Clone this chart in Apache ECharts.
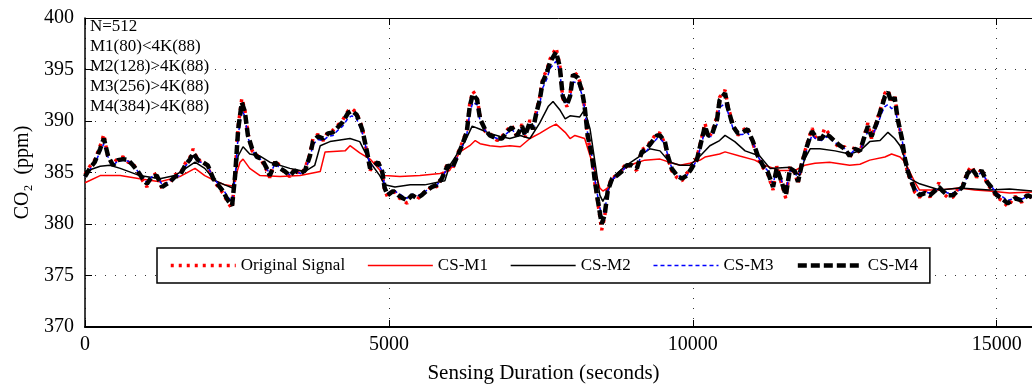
<!DOCTYPE html>
<html>
<head>
<meta charset="utf-8">
<script src="https://cdn.jsdelivr.net/npm/echarts@6/dist/echarts.min.js"></script>
<style>
  html, body { margin: 0; padding: 0; background: #fff; }
  #chart { width: 1032px; height: 389px; }
</style>
</head>
<body>
<div id="chart"></div>
<script>
// Sample times (seconds) shared by the original signal and the CS-M3 / CS-M4 reconstructions
const timeSec = [
  0,80,160,250,310,380,460,540,630,710,
  790,870,950,1020,1100,1180,1270,1320,1400,1480,
  1560,1650,1730,1780,1860,1940,2020,2110,2190,2270,
  2350,2420,2470,2520,2580,2630,2680,2750,2830,2910,
  2990,3040,3130,3210,3290,3370,3450,3540,3620,3700,
  3750,3830,3920,4000,4080,4160,4240,4330,4390,4470,
  4560,4640,4690,4770,4820,4890,4930,4980,5070,5150,
  5230,5300,5380,5460,5540,5630,5710,5790,5870,5920,
  5970,6040,6120,6200,6280,6330,6380,6450,6500,6580,
  6660,6780,6860,6940,7020,7110,7190,7240,7320,7370,
  7430,7480,7530,7600,7650,7750,7810,7860,7930,7980,
  8030,8110,8180,8220,8270,8340,8390,8440,8500,8550,
  8600,8670,8750,8830,8910,9000,9080,9160,9240,9330,
  9410,9460,9540,9590,9650,9740,9820,9900,9980,10070,
  10150,10200,10250,10310,10400,10440,10530,10580,10660,10740,
  10820,10900,10990,11070,11150,11230,11320,11380,11460,11530,
  11600,11680,11730,11790,11880,11960,12040,12120,12170,12250,
  12340,12420,12500,12580,12660,12750,12830,12880,12940,13030,
  13110,13160,13210,13270,13320,13370,13440,13490,13540,13600,
  13650,13730,13820,13900,13980,14050,14110,14190,14280,14360,
  14440,14520,14590,14670,14750,14840,14920,15000,15080,15180,
  15300,15410,15510,15580
];

// Measured CO2 (ppm)
const originalSignal = [
  384.8,385.6,386.2,387.6,388.7,386.4,385.8,386.4,386.5,386.0,
  385.9,385.0,384.2,383.6,384.7,384.9,383.4,383.9,384.0,384.8,
  384.8,385.9,386.5,387.3,386.1,386.2,385.5,384.3,383.6,383.0,
  382.1,381.5,384.9,389.5,392.2,391.1,388.8,387.1,386.7,386.1,
  385.2,384.5,386.2,385.6,384.9,384.6,385.4,384.8,385.4,386.8,
  388.3,388.7,388.1,389.0,389.1,389.6,390.1,391.0,391.2,390.8,
  389.4,386.8,385.2,385.9,386.2,384.9,383.3,382.6,383.4,382.6,
  382.3,382.0,383.0,382.3,383.0,383.1,383.8,383.6,384.6,385.3,
  385.9,385.2,386.7,387.8,389.1,391.7,392.9,392.3,390.4,389.0,
  388.8,388.1,388.5,389.1,389.6,388.4,389.7,388.4,390.1,389.0,
  391.1,392.3,394.1,395.0,396.0,397.1,395.5,392.2,391.4,392.6,
  394.8,394.4,393.0,391.2,388.4,386.4,383.9,382.0,379.4,380.7,
  383.4,384.6,384.5,385.3,385.9,385.5,385.2,387.2,387.5,388.2,
  388.9,388.8,387.8,386.4,385.2,384.5,384.2,384.9,385.6,386.5,
  388.5,389.8,388.4,388.8,390.5,392.3,393.0,391.4,389.7,388.6,
  389.1,389.4,387.8,386.4,385.5,384.9,383.3,385.6,383.9,382.5,
  385.6,384.9,383.9,385.9,387.8,389.3,388.1,388.5,389.3,388.7,
  387.8,387.4,387.5,386.4,387.5,386.9,388.8,389.8,388.3,390.1,
  391.6,392.7,393.0,392.0,392.5,390.4,388.1,386.1,384.9,383.9,
  383.1,382.6,383.2,382.6,383.4,384.0,383.0,382.6,382.6,383.4,
  383.8,385.1,385.6,384.5,385.4,383.9,383.3,382.6,382.3,381.7,
  382.7,382.1,383.0,382.4
];

// CS-M3 reconstruction
const csM3 = [
  384.6,385.3,385.9,387.0,387.8,386.5,385.7,386.1,386.2,386.1,
  385.7,385.1,384.5,384.0,384.6,384.7,383.8,383.9,384.2,384.6,
  384.7,385.6,386.1,386.6,386.1,385.9,385.6,384.5,383.9,383.4,
  382.6,382.2,384.5,388.6,391.0,390.5,388.4,387.2,386.5,386.2,
  385.4,384.8,385.9,385.4,385.1,384.8,385.2,384.9,385.2,386.4,
  387.7,388.2,388.1,388.5,388.6,389.1,389.5,390.3,390.5,390.2,
  388.9,387.0,385.6,385.7,385.9,385.1,383.7,383.0,383.3,383.0,
  382.7,382.5,382.9,382.7,382.9,383.3,383.6,383.8,384.3,385.0,
  385.6,385.5,386.4,387.4,388.6,390.8,391.8,391.6,390.0,389.1,
  388.6,388.3,388.3,388.8,389.2,388.6,389.3,388.7,389.7,389.2,
  390.6,391.6,393.2,394.1,395.1,395.8,394.8,392.3,391.6,392.2,
  393.8,393.7,392.5,391.2,388.7,386.6,384.3,382.5,380.7,381.2,
  383.2,384.3,384.7,385.1,385.6,385.7,385.5,386.8,387.1,387.8,
  388.3,388.3,387.8,386.6,385.5,384.8,384.5,384.7,385.4,386.2,
  388.0,389.0,388.5,388.5,389.7,391.3,391.7,390.8,389.3,388.7,
  388.7,388.9,387.9,386.6,385.7,385.2,383.9,385.3,384.2,383.1,
  385.2,385.1,384.3,385.6,387.3,388.6,388.2,388.1,388.5,388.3,
  387.9,387.6,387.3,386.7,387.2,387.1,388.3,389.0,388.5,389.5,
  390.8,391.4,391.6,391.2,391.4,390.0,388.3,386.4,385.2,384.2,
  383.5,383.0,383.1,383.0,383.2,383.5,383.3,383.0,383.0,383.2,
  383.5,384.7,385.2,384.7,385.0,384.2,383.6,383.0,382.7,382.3,
  382.5,382.4,382.7,382.6
];

// CS-M4 reconstruction
const csM4 = [
  384.6,385.4,386.0,387.3,388.3,386.6,385.7,386.2,386.3,386.2,
  385.7,385.1,384.4,383.9,384.6,384.7,383.6,383.8,384.1,384.6,
  384.7,385.7,386.3,386.9,386.2,386.0,385.7,384.4,383.8,383.2,
  382.3,381.8,384.7,389.2,391.8,390.9,388.6,387.3,386.5,386.3,
  385.4,384.7,386.0,385.4,385.1,384.7,385.2,384.9,385.2,386.6,
  388.0,388.5,388.3,388.8,388.9,389.4,389.9,390.8,391.0,390.6,
  389.2,387.0,385.4,385.7,386.0,385.1,383.5,382.8,383.2,382.8,
  382.5,382.3,382.8,382.5,382.8,383.3,383.6,383.8,384.4,385.1,
  385.7,385.4,386.5,387.6,388.9,391.4,392.6,392.1,390.2,389.2,
  388.6,388.3,388.3,388.9,389.4,388.6,389.5,388.6,389.9,389.2,
  390.9,392.0,393.8,394.7,395.7,396.7,395.3,392.4,391.6,392.4,
  394.5,394.2,392.8,391.4,388.6,386.6,384.1,382.2,380.0,380.9,
  383.2,384.4,384.7,385.1,385.7,385.7,385.4,387.0,387.3,388.0,
  388.6,388.6,388.0,386.6,385.4,384.7,384.4,384.7,385.4,386.3,
  388.3,389.5,388.6,388.6,390.2,392.0,392.7,391.2,389.5,388.8,
  388.9,389.2,388.0,386.6,385.7,385.1,383.6,385.4,384.1,382.8,
  385.4,385.1,384.1,385.7,387.6,389.0,388.3,388.3,388.8,388.5,
  388.0,387.6,387.3,386.6,387.3,387.1,388.6,389.5,388.5,389.9,
  391.4,392.4,392.8,391.8,392.3,390.2,388.3,386.3,385.1,384.1,
  383.3,382.8,383.0,382.8,383.2,383.6,383.2,382.8,382.8,383.2,
  383.6,384.9,385.4,384.7,385.2,384.1,383.5,382.8,382.5,382.0,
  382.5,382.3,382.8,382.6
];

// CS-M1 reconstruction
const csM1Time = [
  0,250,580,900,1230,1560,1810,1970,2140,2300,
  2430,2550,2600,2710,2880,3210,3540,3870,3950,4280,
  4360,4520,4690,4930,5180,5510,5840,6000,6170,6330,
  6420,6500,6660,6830,6990,7160,7320,7480,7650,7750,
  7900,7980,8060,8220,8310,8390,8470,8520,8600,8720,
  8880,9050,9210,9460,9620,9790,9950,10120,10200,10440,
  10530,10770,11020,11180,11430,11680,11840,12010,12250,12580,
  12750,12910,13160,13270,13410,13490,13650,13730,14060,14390,
  14640,14880,15210,15580
];
const csM1 = [
  384.0,384.7,384.7,384.4,384.1,384.6,385.4,384.7,384.2,383.8,
  383.7,386.0,386.3,385.4,384.7,384.6,384.7,385.1,387.0,387.1,
  387.6,386.9,386.3,384.7,384.6,384.7,384.9,385.2,387.0,387.6,
  388.1,387.8,387.6,387.5,387.6,387.5,388.3,388.8,389.4,389.7,
  388.9,388.3,388.6,388.3,386.6,385.1,383.5,383.2,383.5,384.7,
  385.4,385.9,386.2,386.3,386.0,385.7,385.9,386.2,386.5,386.8,
  387.0,386.6,386.2,385.7,385.2,385.2,385.7,385.9,386.0,385.7,
  385.8,386.2,386.5,386.8,386.5,386.0,384.1,383.3,383.3,383.5,
  383.3,383.2,383.0,383.1
];

// CS-M2 reconstruction
const csM2Time = [
  0,250,410,580,900,1230,1480,1730,1810,1970,
  2140,2300,2430,2520,2600,2710,2880,3040,3370,3620,
  3780,3870,4030,4360,4520,4690,4850,4930,5100,5350,
  5590,5840,5920,6000,6090,6250,6370,6500,6660,6830,
  6990,7160,7320,7480,7620,7700,7810,7900,7980,8140,
  8220,8310,8390,8470,8520,8600,8720,8880,9130,9290,
  9460,9620,9790,9950,10120,10280,10440,10530,10690,10860,
  11100,11270,11600,11760,11840,11930,12090,12340,12580,12750,
  12910,13080,13210,13320,13410,13490,13570,13730,14060,14390,
  14880,15210,15580
];
const csM2 = [
  385.1,385.6,385.7,385.4,384.7,384.4,384.7,385.7,386.0,385.4,
  384.2,383.8,383.5,386.6,387.5,386.8,386.6,386.0,385.4,385.1,
  385.7,387.6,388.0,388.3,388.0,386.0,384.7,383.8,383.6,383.8,
  383.8,384.1,384.2,385.7,386.5,388.0,389.5,389.2,388.8,388.5,
  388.3,388.6,388.3,389.8,391.4,391.9,391.1,390.2,390.5,390.4,
  391.1,389.2,386.0,382.8,382.2,383.2,384.7,385.6,386.6,387.3,
  387.1,386.0,385.7,385.7,386.6,387.6,388.1,388.6,388.0,387.1,
  386.6,385.4,385.5,384.7,386.3,387.3,387.3,387.1,386.8,387.1,
  388.0,388.1,388.9,388.3,387.6,386.3,384.4,383.9,383.3,383.5,
  383.3,383.4,383.2
];

// Axis ranges
const xRange = [0, 15580];
const xStep = 5000;
const yRange = [370, 400];
const yStep = 5;

// Notes printed in the upper-left corner of the plot
const notes = ['N=512', 'M1(80)<4K(88)', 'M2(128)>4K(88)', 'M3(256)>4K(88)', 'M4(384)>4K(88)'];

const seriesNames = ['Original Signal', 'CS-M1', 'CS-M2', 'CS-M3', 'CS-M4'];

// Line styles for each series (also used for the legend swatches)
const styles = [
  { color: '#ff0000', width: 3.5, type: [3, 5] },
  { color: '#ff0000', width: 1.5, type: 'solid' },
  { color: '#000000', width: 1.5, type: 'solid' },
  { color: '#0000ff', width: 1.5, type: [4, 3] },
  { color: '#000000', width: 4.5, type: [9, 4] }
];

function pairs(xs, ys) {
  const n = Math.min(xs.length, ys.length);
  const out = [];
  for (let i = 0; i < n; i++) out.push([xs[i], ys[i]]);
  return out;
}

const FONT = "'Liberation Serif', 'Times New Roman', serif";
const gridDots = { color: '#333', width: 1, type: [1, 9] };

const chart = echarts.init(document.getElementById('chart'), null, { renderer: 'canvas' });

function lineSeries(i, data) {
  const ls = styles[i];
  return {
    name: seriesNames[i], type: 'line', data, z: 2 + i,
    symbol: 'none', showSymbol: false, smooth: false,
    lineStyle: ls, itemStyle: { color: ls.color },
    emphasis: { disabled: true }, silent: true
  };
}

chart.setOption({
  animation: false,
  backgroundColor: '#fff',
  grid: { left: 85, top: 18, right: 0, bottom: 59, containLabel: false },
  legend: {
    data: seriesNames.map((name, i) => ({
      name,
      lineStyle: { width: styles[i].width, type: styles[i].type, color: styles[i].color }
    })),
    left: 157, top: 248,
    orient: 'horizontal',
    itemWidth: 65, itemHeight: 14, itemGap: 22,
    padding: [9, 12],
    borderColor: '#000', borderWidth: 1.5,
    backgroundColor: '#fff',
    itemStyle: { opacity: 0, borderWidth: 0 },
    textStyle: { fontFamily: FONT, fontSize: 17, color: '#000' },
    selectedMode: false, z: 20
  },
  xAxis: [{
    type: 'value', min: xRange[0], max: xRange[1], interval: xStep,
    position: 'bottom',
    axisLine: { show: true, onZero: false, lineStyle: { color: '#000', width: 2 } },
    axisTick: { show: true, inside: true, length: 7, lineStyle: { color: '#000' } },
    axisLabel: {
      fontFamily: FONT, fontSize: 20, color: '#000', margin: 8, showMaxLabel: false,
      formatter: v => String(v)
    },
    splitLine: { show: true, lineStyle: gridDots },
    name: 'Sensing Duration (seconds)', nameLocation: 'middle', nameGap: 36,
    nameTextStyle: { fontFamily: FONT, fontSize: 21, color: '#000', padding: [0, 30, 0, 0] }
  }, {
    type: 'value', min: xRange[0], max: xRange[1], interval: xStep,
    position: 'top',
    axisLine: { show: true, onZero: false, lineStyle: { color: '#000', width: 1 } },
    axisTick: { show: true, inside: true, length: 7, lineStyle: { color: '#000' } },
    axisLabel: { show: false },
    splitLine: { show: false }
  }],
  yAxis: [{
    type: 'value', min: yRange[0], max: yRange[1], interval: yStep,
    axisLine: { show: true, onZero: false, lineStyle: { color: '#000', width: 1.5 } },
    axisTick: { show: true, inside: true, length: 7, lineStyle: { color: '#000' } },
    axisLabel: { fontFamily: FONT, fontSize: 20, color: '#000', margin: 11 },
    splitLine: { show: true, lineStyle: gridDots },
    name: 'CO\u2082  (ppm)', nameLocation: 'middle', nameGap: 52,
    nameTextStyle: { fontFamily: FONT, fontSize: 20, color: '#000' }
  }],
  graphic: [{
    type: 'text', left: 90, top: 17, z: 30,
    style: { text: notes.join('\n'), font: '17px ' + FONT, lineHeight: 20, fill: '#000' }
  }],
  series: [
    lineSeries(0, pairs(timeSec, originalSignal)),
    lineSeries(1, pairs(csM1Time, csM1)),
    lineSeries(2, pairs(csM2Time, csM2)),
    lineSeries(3, pairs(timeSec, csM3)),
    lineSeries(4, pairs(timeSec, csM4))
  ]
});
</script>
</body>
</html>
